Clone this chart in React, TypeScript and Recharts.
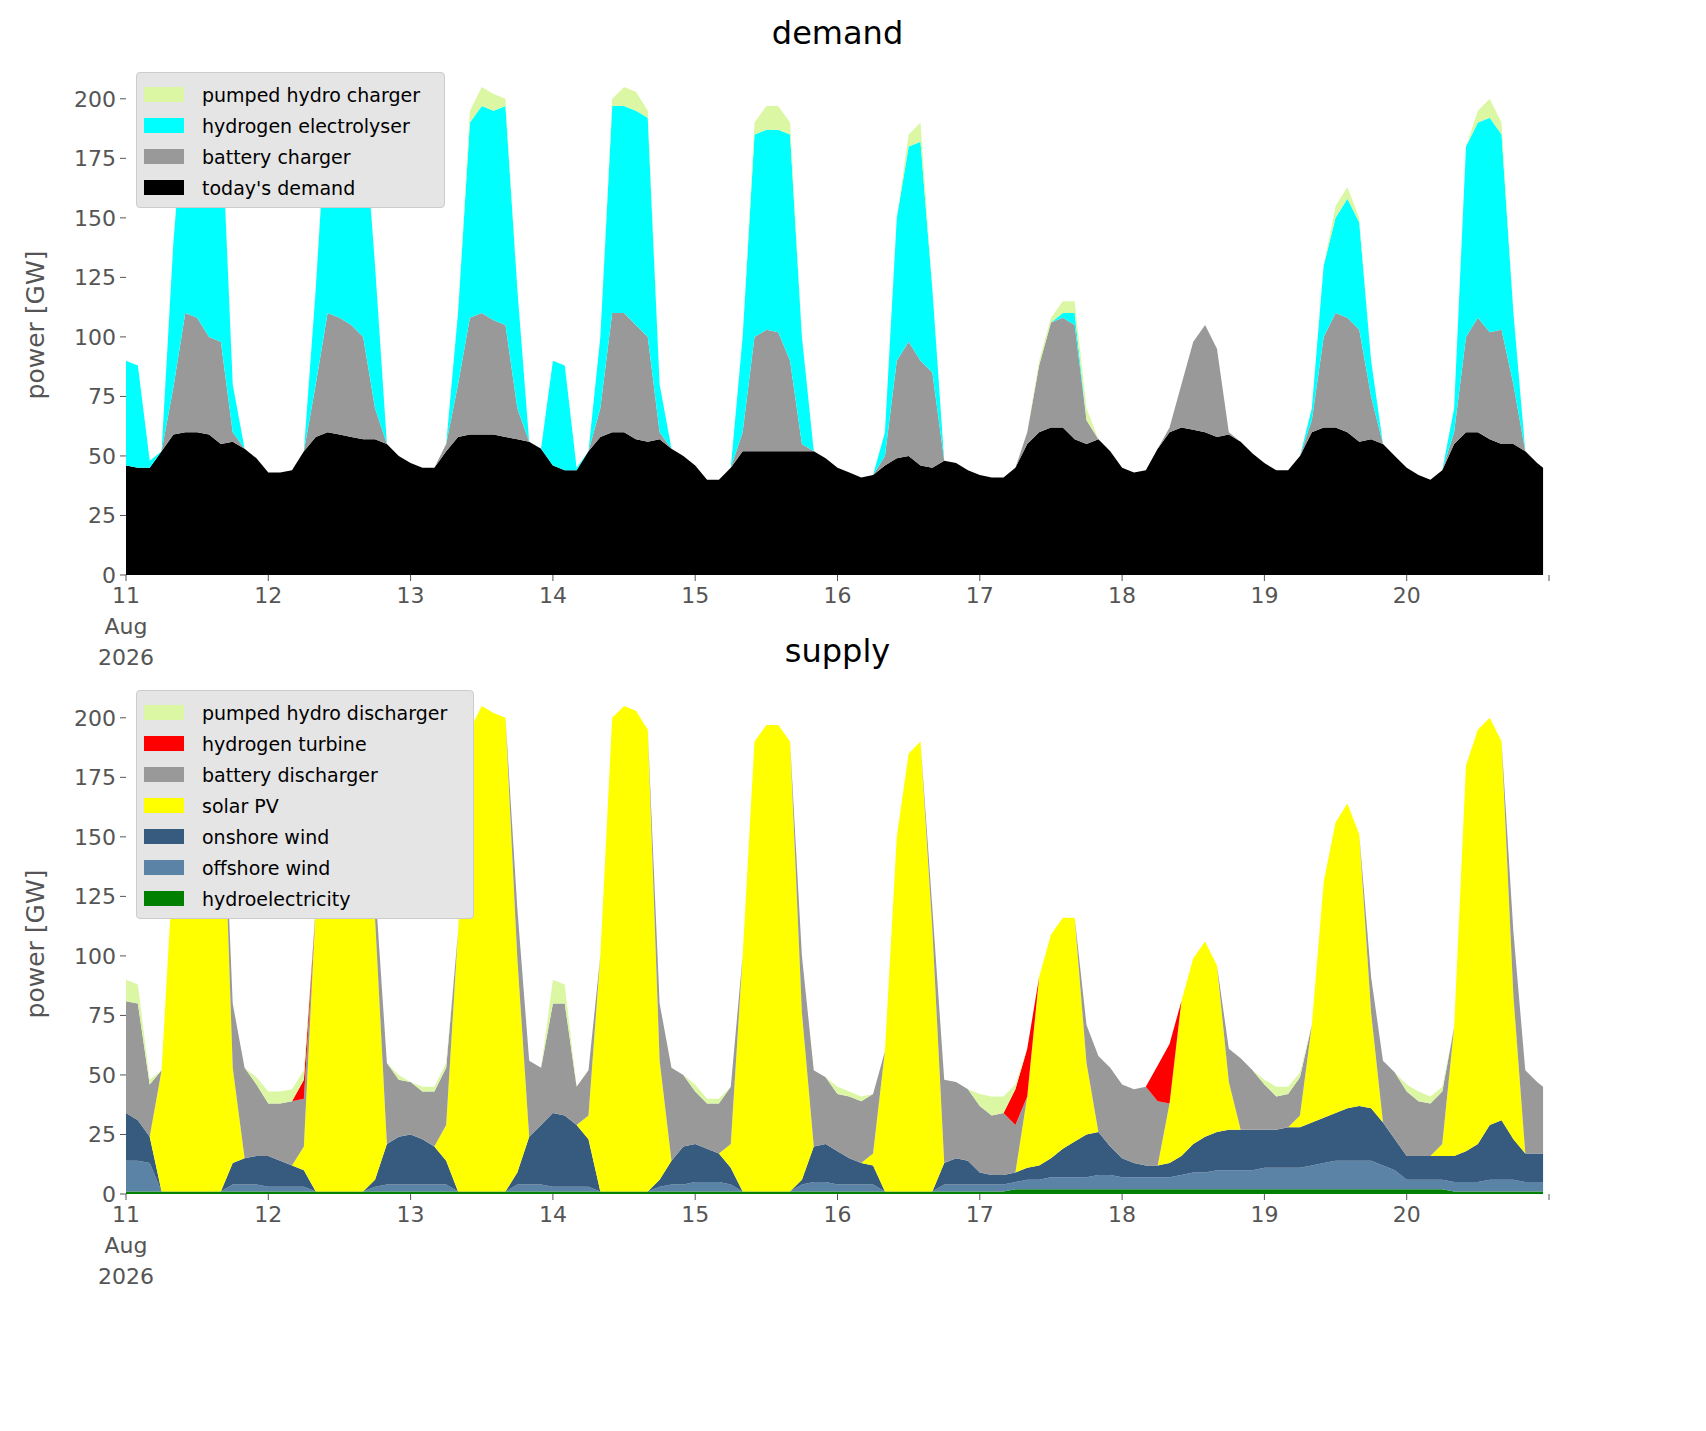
import React from "react";
import { AreaChart, Area, XAxis, YAxis } from "recharts";

// 2-hourly readings, 11 Aug 00:00 .. 20 Aug 22:00, plus 20 Aug 23:00
const dayLabels = ["11", "12", "13", "14", "15", "16", "17", "18", "19", "20"];
const monthLabel = "Aug";
const yearLabel = "2026";
const yTicks = [0, 25, 50, 75, 100, 125, 150, 175, 200];

// demand side (stack increments, GW)
const todaysDemand = [
  46, 45, 45, 52, 59, 60, 60, 59, 55, 56, 53, 49,
  43, 43, 44, 52, 58, 60, 59, 58, 57, 57, 55, 50,
  47, 45, 45, 52, 58, 59, 59, 59, 58, 57, 56, 53,
  46, 44, 44, 52, 58, 60, 60, 57, 56, 57, 53, 50,
  46, 40, 40, 45, 52, 52, 52, 52, 52, 52, 52, 49,
  45, 43, 41, 42, 46, 49, 50, 46, 45, 48, 47, 44,
  42, 41, 41, 45, 55, 60, 62, 62, 57, 55, 57, 52,
  45, 43, 44, 53, 60, 62, 61, 60, 58, 59, 56, 51,
  47, 44, 44, 50, 60, 62, 62, 60, 56, 57, 55, 50,
  45, 42, 40, 44, 55, 60, 60, 57, 55, 55, 52, 47, 45,
];
const batteryCharger = [
  0, 0, 0, 0, 20, 50, 48, 41, 43, 4, 0, 0,
  0, 0, 0, 0, 22, 50, 49, 47, 43, 13, 0, 0,
  0, 0, 0, 3, 22, 49, 51, 48, 47, 13, 0, 0,
  0, 0, 0, 0, 12, 50, 50, 48, 44, 3, 0, 0,
  0, 0, 0, 0, 8, 48, 51, 50, 38, 3, 0, 0,
  0, 0, 0, 0, 4, 41, 48, 44, 40, 0, 0, 0,
  0, 0, 0, 0, 5, 28, 44, 46, 48, 10, 0, 0,
  0, 0, 0, 0, 2, 18, 37, 45, 37, 1, 0, 0,
  0, 0, 0, 0, 5, 38, 48, 48, 47, 18, 0, 0,
  0, 0, 0, 0, 5, 40, 48, 45, 48, 25, 0, 0, 0,
];
const electrolyser = [
  44, 43, 3, 0, 61, 92, 94, 100, 100, 20, 0, 0,
  0, 0, 0, 0, 40, 92, 94, 95, 98, 60, 0, 0,
  0, 0, 0, 0, 30, 82, 87, 88, 92, 50, 0, 0,
  44, 44, 1, 0, 30, 87, 87, 90, 92, 20, 0, 0,
  0, 0, 0, 0, 40, 85, 84, 85, 95, 45, 0, 0,
  0, 0, 0, 0, 10, 60, 82, 92, 35, 0, 0, 0,
  0, 0, 0, 0, 0, 0, 0, 2, 5, 0, 0, 0,
  0, 0, 0, 0, 0, 0, 0, 0, 0, 0, 0, 0,
  0, 0, 0, 0, 5, 30, 40, 50, 45, 15, 0, 0,
  0, 0, 0, 0, 10, 80, 82, 90, 82, 30, 0, 0, 0,
];
const pumpedCharger = [
  0, 0, 0, 0, 0, 3, 3, 3, 2, 0, 0, 0,
  0, 0, 0, 0, 0, 3, 3, 3, 2, 0, 0, 0,
  0, 0, 0, 0, 0, 5, 8, 7, 3, 0, 0, 0,
  0, 0, 0, 0, 0, 3, 8, 8, 3, 0, 0, 0,
  0, 0, 0, 0, 0, 5, 10, 10, 5, 0, 0, 0,
  0, 0, 0, 0, 0, 0, 5, 8, 0, 0, 0, 0,
  0, 0, 0, 0, 0, 2, 2, 5, 5, 5, 0, 0,
  0, 0, 0, 0, 0, 0, 0, 0, 0, 0, 0, 0,
  0, 0, 0, 0, 0, 0, 5, 5, 2, 0, 0, 0,
  0, 0, 0, 0, 0, 0, 5, 8, 5, 0, 0, 0, 0,
];

// supply side (stack increments, GW)
const hydro = [
  1, 1, 1, 1, 1, 1, 1, 1, 1, 1, 1, 1,
  1, 1, 1, 1, 1, 1, 1, 1, 1, 1, 1, 1,
  1, 1, 1, 1, 1, 1, 1, 1, 1, 1, 1, 1,
  1, 1, 1, 1, 1, 1, 1, 1, 1, 1, 1, 1,
  1, 1, 1, 1, 1, 1, 1, 1, 1, 1, 1, 1,
  1, 1, 1, 1, 1, 1, 1, 1, 1, 1, 1, 1,
  1, 1, 1, 2, 2, 2, 2, 2, 2, 2, 2, 2,
  2, 2, 2, 2, 2, 2, 2, 2, 2, 2, 2, 2,
  2, 2, 2, 2, 2, 2, 2, 2, 2, 2, 2, 2,
  2, 2, 2, 2, 1, 1, 1, 1, 1, 1, 1, 1, 1,
];
const offshore = [
  13, 13, 12, 0, 0, 0, 0, 0, 0, 3, 3, 3,
  2, 2, 2, 2, 0, 0, 0, 0, 0, 2, 3, 3,
  3, 3, 3, 3, 0, 0, 0, 0, 0, 3, 3, 3,
  2, 2, 2, 2, 0, 0, 0, 0, 0, 2, 3, 3,
  4, 4, 4, 3, 0, 0, 0, 0, 0, 3, 4, 4,
  3, 3, 3, 3, 0, 0, 0, 0, 0, 3, 3, 3,
  3, 3, 3, 3, 4, 4, 5, 5, 5, 5, 6, 6,
  5, 5, 5, 5, 5, 6, 7, 7, 8, 8, 8, 8,
  9, 9, 9, 9, 10, 11, 12, 12, 12, 12, 10, 8,
  4, 4, 4, 4, 4, 4, 4, 5, 5, 5, 4, 4, 4,
];
const onshore = [
  20, 17, 11, 0, 0, 0, 0, 0, 0, 9, 11, 12,
  13, 11, 9, 7, 0, 0, 0, 0, 0, 3, 17, 20,
  21, 19, 16, 10, 0, 0, 0, 0, 0, 5, 20, 25,
  31, 30, 26, 20, 0, 0, 0, 0, 0, 3, 10, 16,
  16, 14, 12, 7, 0, 0, 0, 0, 0, 2, 15, 16,
  14, 11, 9, 8, 0, 0, 0, 0, 0, 9, 11, 10,
  5, 4, 4, 4, 5, 6, 8, 12, 15, 18, 18, 12,
  8, 6, 5, 5, 6, 8, 12, 15, 16, 17, 17, 17,
  16, 16, 17, 17, 18, 19, 20, 22, 23, 22, 18, 13,
  10, 10, 10, 10, 11, 13, 16, 23, 25, 17, 12, 12, 12,
];
const solar = [
  0, 0, 0, 51, 139, 204, 204, 202, 199, 40, 0, 0,
  0, 0, 0, 10, 119, 204, 204, 202, 199, 110, 0, 0,
  0, 0, 0, 15, 109, 194, 204, 201, 199, 90, 0, 0,
  0, 0, 0, 10, 99, 199, 204, 202, 194, 50, 0, 0,
  0, 0, 0, 10, 99, 189, 196, 196, 189, 70, 0, 0,
  0, 0, 0, 5, 59, 149, 184, 189, 110, 0, 0, 0,
  0, 0, 0, 0, 30, 79, 94, 97, 94, 30, 0, 0,
  0, 0, 0, 0, 25, 65, 78, 82, 70, 20, 0, 0,
  0, 0, 0, 5, 41, 99, 122, 128, 114, 40, 0, 0,
  0, 0, 0, 5, 54, 162, 174, 171, 159, 60, 0, 0, 0,
];
const batteryDischarger = [
  47, 49, 22, 0, 0, 0, 0, 0, 0, 27, 38, 30,
  22, 24, 27, 20, 0, 0, 0, 0, 0, 14, 34, 24,
  22, 20, 23, 24, 0, 0, 0, 0, 0, 21, 32, 24,
  46, 47, 16, 19, 0, 0, 0, 0, 0, 24, 39, 30,
  22, 19, 21, 24, 0, 0, 0, 0, 0, 24, 32, 28,
  24, 26, 26, 25, 0, 0, 0, 0, 9, 35, 32, 30,
  28, 25, 26, 20, 0, 0, 0, 0, 0, 16, 32, 33,
  31, 31, 33, 27, 0, 0, 0, 0, 0, 14, 30, 25,
  19, 14, 14, 16, 0, 0, 0, 0, 0, 15, 26, 28,
  27, 23, 22, 22, 0, 0, 0, 0, 0, 27, 35, 30, 28,
];
const hydrogenTurbine = [
  0, 0, 0, 0, 0, 0, 0, 0, 0, 0, 0, 0,
  0, 0, 0, 8, 0, 0, 0, 0, 0, 0, 0, 0,
  0, 0, 0, 0, 0, 0, 0, 0, 0, 0, 0, 0,
  0, 0, 0, 0, 0, 0, 0, 0, 0, 0, 0, 0,
  0, 0, 0, 0, 0, 0, 0, 0, 0, 0, 0, 0,
  0, 0, 0, 0, 0, 0, 0, 0, 0, 0, 0, 0,
  0, 0, 0, 15, 20, 0, 0, 0, 0, 0, 0, 0,
  0, 0, 0, 15, 25, 0, 0, 0, 0, 0, 0, 0,
  0, 0, 0, 0, 0, 0, 0, 0, 0, 0, 0, 0,
  0, 0, 0, 0, 0, 0, 0, 0, 0, 0, 0, 0, 0,
];
const pumpedDischarger = [
  9, 8, 2, 0, 0, 0, 0, 0, 0, 0, 0, 3,
  5, 5, 5, 4, 0, 0, 0, 0, 0, 0, 0, 2,
  0, 2, 2, 2, 0, 0, 0, 0, 0, 0, 0, 0,
  10, 8, 0, 0, 0, 0, 0, 0, 0, 0, 0, 0,
  3, 2, 2, 0, 0, 0, 0, 0, 0, 0, 0, 0,
  3, 2, 2, 0, 0, 0, 0, 0, 0, 0, 0, 0,
  5, 8, 7, 2, 0, 0, 0, 0, 0, 0, 0, 0,
  0, 0, 0, 0, 0, 0, 0, 0, 0, 0, 0, 0,
  2, 4, 3, 2, 0, 0, 0, 0, 0, 0, 0, 0,
  3, 4, 3, 2, 0, 0, 0, 0, 0, 0, 0, 0, 0,
];

const hours: number[] = [];
for (let d = 0; d < 10; d++) for (let h = 0; h < 24; h += 2) hours.push(d * 24 + h);
hours.push(239);

const rows = hours.map((t, i) => ({
  t,
  todaysDemand: todaysDemand[i],
  batteryCharger: batteryCharger[i],
  electrolyser: electrolyser[i],
  pumpedCharger: pumpedCharger[i],
  hydro: hydro[i],
  offshore: offshore[i],
  onshore: onshore[i],
  solar: solar[i],
  batteryDischarger: batteryDischarger[i],
  hydrogenTurbine: hydrogenTurbine[i],
  pumpedDischarger: pumpedDischarger[i],
}));

const demandSeries = [
  { key: "todaysDemand", name: "today's demand", color: "#000000" },
  { key: "batteryCharger", name: "battery charger", color: "#999999" },
  { key: "electrolyser", name: "hydrogen electrolyser", color: "#00ffff" },
  { key: "pumpedCharger", name: "pumped hydro charger", color: "#dcf7a4" },
];
const supplySeries = [
  { key: "hydro", name: "hydroelectricity", color: "#008000" },
  { key: "offshore", name: "offshore wind", color: "#5b83a6" },
  { key: "onshore", name: "onshore wind", color: "#375a7f" },
  { key: "solar", name: "solar PV", color: "#ffff00" },
  { key: "batteryDischarger", name: "battery discharger", color: "#999999" },
  { key: "hydrogenTurbine", name: "hydrogen turbine", color: "#ff0000" },
  { key: "pumpedDischarger", name: "pumped hydro discharger", color: "#dcf7a4" },
];

const font = "DejaVu Sans, sans-serif";
const xTicks = [0, 24, 48, 72, 96, 120, 144, 168, 192, 216, 240];

function DayTick({ x, y, payload }: any) {
  const i = Math.round(payload.value / 24);
  if (i >= dayLabels.length) return null;
  return (
    <text x={x} y={y} textAnchor="middle" fill="#555" fontSize={22} fontFamily={font}>
      <tspan x={x} dy={20}>{dayLabels[i]}</tspan>
      {i === 0 && <tspan x={x} dy={31}>{monthLabel}</tspan>}
      {i === 0 && <tspan x={x} dy={31}>{yearLabel}</tspan>}
    </text>
  );
}

function Legend({ items, top, width }: { items: typeof demandSeries; top: number; width: number }) {
  return (
    <div
      style={{
        position: "absolute", left: 136, top, width, background: "#e5e5e5",
        border: "1px solid #cccccc", borderRadius: 4, padding: "6px 0 4px 0",
        fontFamily: font, fontSize: 19, color: "#000",
      }}
    >
      {items.map((s) => (
        <div key={s.key} style={{ display: "flex", alignItems: "center", height: 31 }}>
          <span style={{ width: 40, height: 15, background: s.color, marginLeft: 7, marginRight: 18 }} />
          <span>{s.name}</span>
        </div>
      ))}
    </div>
  );
}

function Panel({ top, series }: { top: number; series: typeof demandSeries }) {
  return (
    <div style={{ position: "absolute", left: 0, top }}>
      <AreaChart width={1706} height={680} data={rows} margin={{ top: 75, right: 157, left: 66, bottom: 25 }}>
        <XAxis
          dataKey="t" type="number" domain={[0, 240]} ticks={xTicks} interval={0}
          axisLine={false} tickLine={{ stroke: "#555" }} tickSize={6} tick={<DayTick />} height={80}
        />
        <YAxis
          domain={[0, 210]} ticks={yTicks} width={60} axisLine={false} tickSize={6}
          tickLine={{ stroke: "#555" }} tick={{ fill: "#555", fontSize: 22, fontFamily: font }}
          tickMargin={4} allowDataOverflow
        />
        {series.map((s) => (
          <Area
            key={s.key} dataKey={s.key} name={s.name} stackId="a" type="linear"
            stroke="none" fill={s.color} fillOpacity={1} isAnimationActive={false}
            dot={false} activeDot={false}
          />
        ))}
      </AreaChart>
    </div>
  );
}

function Title({ text, top }: { text: string; top: number }) {
  return (
    <div style={{ position: "absolute", left: 126, width: 1423, top, textAlign: "center", fontFamily: font, fontSize: 32, color: "#000" }}>
      {text}
    </div>
  );
}

function YLabel({ mid }: { mid: number }) {
  return (
    <div
      style={{
        position: "absolute", left: 35, top: mid, transform: "translate(-50%, -50%) rotate(-90deg)",
        whiteSpace: "nowrap", fontFamily: font, fontSize: 25, color: "#555",
      }}
    >
      power [GW]
    </div>
  );
}

export default function App() {
  return (
    <div style={{ position: "absolute", left: 0, top: 0, width: 1706, height: 1431, background: "#fff" }}>
      <Panel top={0} series={demandSeries} />
      <Panel top={619} series={supplySeries} />
      <Title text="demand" top={14} />
      <Title text="supply" top={632} />
      <YLabel mid={325} />
      <YLabel mid={944} />
      <Legend items={[...demandSeries].reverse()} top={72} width={307} />
      <Legend items={[...supplySeries].reverse()} top={690} width={336} />
    </div>
  );
}
